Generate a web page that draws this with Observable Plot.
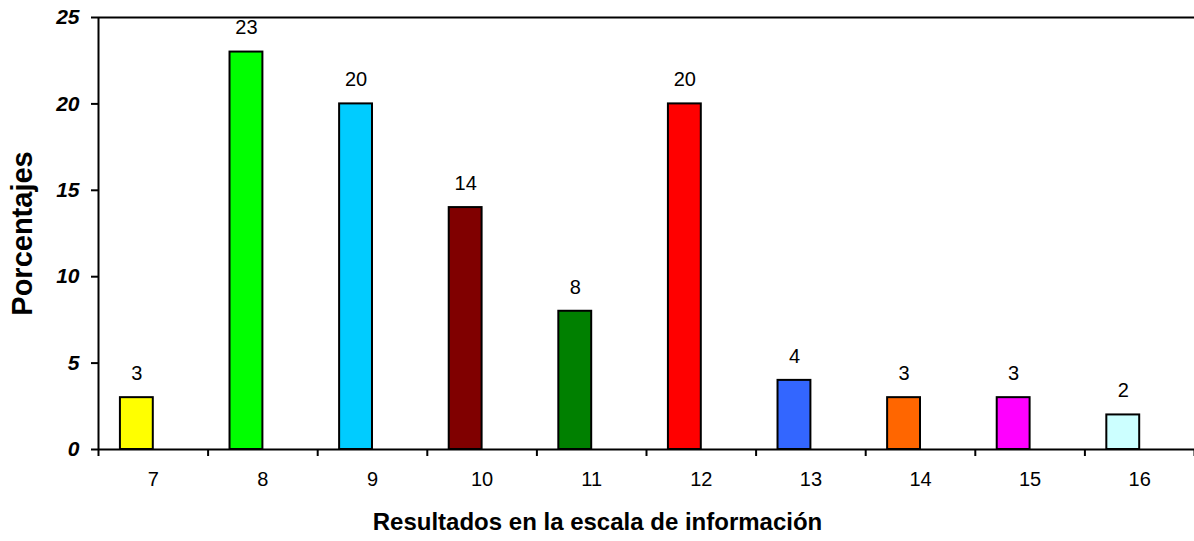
<!DOCTYPE html>
<html>
<head>
<meta charset="utf-8">
<script src="https://cdn.jsdelivr.net/npm/d3@7"></script>
<script src="https://cdn.jsdelivr.net/npm/@observablehq/plot@0.6"></script>
<style>
  html, body { margin: 0; padding: 0; background: #fff; }
  #chart svg { display: block; }
</style>
</head>
<body>
<div id="chart"></div>
<script>
const categories = [7, 8, 9, 10, 11, 12, 13, 14, 15, 16];
const values = [3, 23, 20, 14, 8, 20, 4, 3, 3, 2];
const colors = ["#FFFF00", "#00FF00", "#00CCFF", "#800000", "#008000", "#FF0000", "#3366FF", "#FF6600", "#FF00FF", "#CCFFFF"];
const yTicks = [0, 5, 10, 15, 20, 25];
const xLabel = "Resultados en la escala de información";
const yLabel = "Porcentajes";

const data = categories.map((c, i) => ({cat: c, value: values[i], color: colors[i]}));
const boundaries = d3.range(categories[0] - 0.5, categories[categories.length - 1] + 1, 1);

const font = "'Liberation Sans', Arial, sans-serif";

const chart = Plot.plot({
  width: 1194,
  height: 541,
  marginLeft: 98,
  marginRight: 0,
  marginTop: 17,
  marginBottom: 92,
  style: {fontFamily: font, background: "#fff", color: "#000"},
  x: {type: "linear", domain: [categories[0] - 0.5, categories[categories.length - 1] + 0.5]},
  y: {domain: [0, 25]},
  marks: [
    Plot.rectY(data, {x1: d => d.cat - 0.3, x2: d => d.cat, y1: 0, y2: "value", fill: "color", stroke: "#000", strokeWidth: 2}),
    Plot.text(data, {x: d => d.cat - 0.15, y: "value", text: d => String(d.value), dy: -24, lineAnchor: "middle", fontSize: 20, fill: "#000"}),
    Plot.ruleY([0, 25], {stroke: "#000", strokeWidth: 2}),
    Plot.ruleX([categories[0] - 0.5], {y1: 0, y2: 25, stroke: "#000", strokeWidth: 2}),
    Plot.axisY({ticks: yTicks, tickSize: 7, tickPadding: 12, label: null, fontSize: 21, fontWeight: "bold", fontStyle: "italic", strokeWidth: 2, tickFormat: d => String(d)}),
    Plot.axisX({ticks: boundaries, tickSize: 7, tickFormat: () => "", label: null, strokeWidth: 2}),
    Plot.axisX({ticks: categories, tickSize: 0, tickPadding: 22, label: null, fontSize: 20, tickFormat: d => String(d)}),
    Plot.text([xLabel], {frameAnchor: "bottom", dy: 73, dx: -49, lineAnchor: "middle", fontSize: 24, fontWeight: "bold", fill: "#000"}),
    Plot.text([yLabel], {frameAnchor: "left", dx: -76, rotate: -90, textAnchor: "middle", lineAnchor: "middle", fontSize: 29, fontWeight: "bold", fill: "#000"})
  ]
});
document.getElementById("chart").appendChild(chart);
</script>
</body>
</html>
